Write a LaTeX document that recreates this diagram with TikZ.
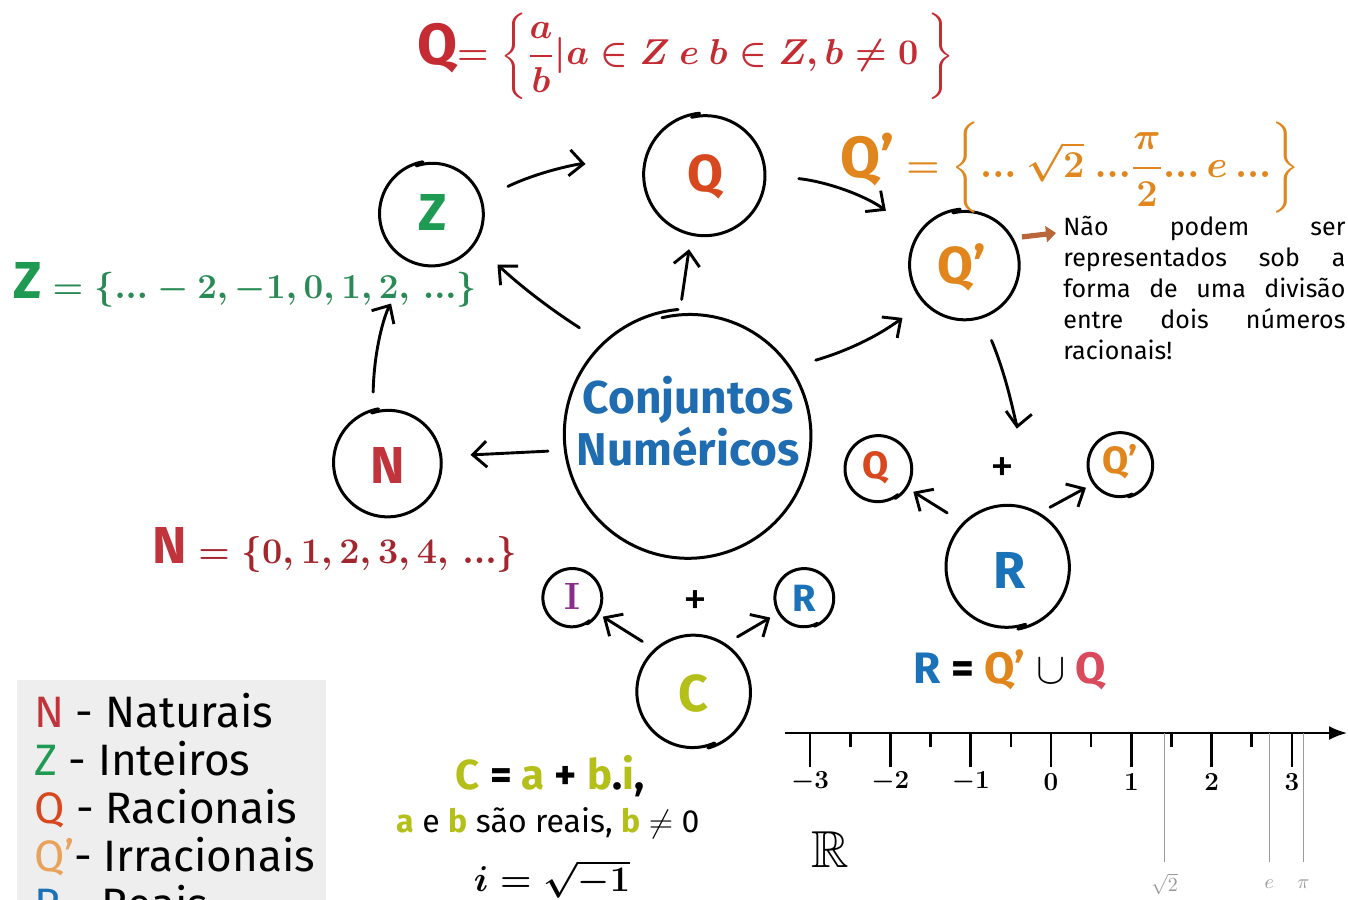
\RequirePackage{fix-cm}
\documentclass[tikz,border=0pt]{standalone}
\usepackage{amsmath,amssymb,bm}
\usepackage[no-math]{fontspec}
\setmainfont{Fira Sans}
\usetikzlibrary{arrows.meta}
\definecolor{qred}{HTML}{C42B32}
\definecolor{qor}{HTML}{D8481E}
\definecolor{zgreen}{HTML}{1E9A52}
\definecolor{zform}{HTML}{2A8A55}
\definecolor{qporange}{HTML}{E0861C}
\definecolor{qplight}{HTML}{E8A25A}
\definecolor{nred}{HTML}{C1343C}
\definecolor{nform}{HTML}{A3262E}
\definecolor{cblue}{HTML}{1F6CB0}
\definecolor{ccol}{HTML}{B4BF1A}
\definecolor{ipurple}{HTML}{8A2C8C}
\definecolor{rblue}{HTML}{1A72B8}
\definecolor{qpink}{HTML}{D84A5C}
\definecolor{brownarr}{HTML}{B8663A}
\definecolor{legendgray}{HTML}{EEEEEE}
\definecolor{linegray}{HTML}{9A9A9A}
\newcommand\mysetnode[6]{%
  \node[setc, minimum size=#4pt] (#1) at (#2,#3) {#6};
  \pgfmathsetmacro\myendang{#5+368}%
  \draw[outl, shift={(#2,#3)}] plot[domain=#5:\myendang, samples=100, smooth]
    ({#4*(1-0.00012*(\x-#5))*cos(\x)}, {-#4*(1-0.00012*(\x-#5))*sin(\x)});
}
\begin{document}
\begin{tikzpicture}[x=0.5pt,y=-0.5pt,
  setc/.style={circle,inner sep=0pt,outer sep=0pt},
  outl/.style={line width=1.5pt,line cap=round},
  arr/.style={line width=1.45pt,line cap=round,-{Straight Barb[length=7pt,width=13pt]}},
  letter/.style={font=\fontsize{26}{30}\selectfont\bfseries},
  sletter/.style={font=\fontsize{19}{22}\selectfont\bfseries},
  legtext/.style={anchor=base west,font=\fontsize{22}{26}\selectfont},
  tick/.style={line width=1.3pt},
  graytick/.style={line width=0.6pt,draw=linegray},
]
\useasboundingbox[fill=white] (0,0) rectangle (1348,899);

% legend box
\fill[legendgray] (17,680) rectangle (326,910);
\node[legtext] (l1) at (27,727) {\textcolor{nred}{N} - Naturais};
\node[legtext] (l2) at (27,775) {\textcolor{zgreen}{Z} - Inteiros};
\node[legtext] (l3) at (27,823) {\textcolor{qor}{Q} - Racionais};
\node[legtext] (l4) at (27,871) {\textcolor{qplight}{Q'}- Irracionais};
\node[legtext] (l5) at (27,919) {\textcolor{rblue}{R} - Reais};

% circles
\mysetnode{Z}{432}{214}{53}{100}{}
\mysetnode{Q}{705}{175}{62}{95}{}
\mysetnode{Qp}{965}{265}{56}{95}{}
\mysetnode{cn}{689}{435}{126}{95}{}
\mysetnode{N}{388}{463}{55}{100}{}
\mysetnode{sQ}{878}{469}{34}{-60}{}
\mysetnode{sQp}{1120}{465}{33}{-75}{}
\mysetnode{R}{1007}{567}{63}{-80}{}
\mysetnode{C}{693}{692}{58}{-75}{}
\mysetnode{I}{572}{598}{30}{-60}{}
\mysetnode{sR}{804}{598}{30}{-70}{}

% letters
\node[letter,text=zgreen] (Zl) at (433,212) {Z};
\node[letter,text=qor] (Ql) at (705,177) {Q};
\node[letter,text=qporange] (Qpl) at (962,267) {Q'};
\node[letter,text=nred] (Nl) at (388,465) {N};
\node[sletter,text=qor] (sQl) at (876,468) {Q};
\node[sletter,text=qporange] (sQpl) at (1120,462) {Q'};
\node[letter,text=rblue] (Rl) at (1010,570) {R};
\node[letter,text=ccol] (Cl) at (693,693) {C};
\node[sletter,text=ipurple,font=\fontsize{19}{22}\selectfont\mathversion{bold}] (Il) at (572,596) {$\mathrm{I}$};
\node[sletter,text=rblue] (sRl) at (804,598) {R};
\node[text=cblue,align=center,font=\fontsize{23}{26}\selectfont\bfseries] (cnt) at (688,421) {Conjuntos\\Numéricos};
\node[font=\fontsize{24}{26}\selectfont] (plusR) at (1002,470) {+};
\node[font=\fontsize{24}{26}\selectfont] (plusC) at (695,603) {+};

% formulas
\node[text=qred,font=\fontsize{18}{22}\selectfont\mathversion{bold}] (qdef) at (686,56)
  {{\fontsize{29}{30}\selectfont\bfseries Q}$=\left\{\dfrac{a}{b}|a\in Z\ e\ b\in Z, b\neq 0\ \right\}$};
\node[text=qporange,font=\fontsize{19}{22}\selectfont\mathversion{bold}] (qpdef) at (1070,168)
  {{\fontsize{29}{30}\selectfont\bfseries Q'}$\;=\left\{...\ \sqrt{2}\ ...\dfrac{\pi}{2}...\,e\,...\right\}$};
\node[text=zform,font=\fontsize{17.5}{22}\selectfont\mathversion{bold}] (zdef) at (245,285)
  {\textcolor{zgreen}{\fontsize{26}{30}\selectfont\bfseries Z}$\;=\{...-2,-1,0,1,2,\,...\}$};
\node[text=nform,font=\fontsize{18}{22}\selectfont\mathversion{bold}] (ndef) at (335,550)
  {\textcolor{nred}{\fontsize{26}{30}\selectfont\bfseries N}$\;=\{0,1,2,3,4,\,...\}$};
\node[font=\fontsize{22}{26}\selectfont\bfseries] (rdef) at (1010,670)
  {\textcolor{rblue}{R} = \textcolor{qporange}{Q'} $\cup$ \textcolor{qpink}{Q}};
\node[font=\fontsize{21}{24}\selectfont\bfseries] (cdef) at (550,776)
  {\textcolor{ccol}{C} = \textcolor{ccol}{a} + \textcolor{ccol}{b}.\textcolor{ccol}{i},};
\node[font=\fontsize{16}{20}\selectfont] (cdef2) at (548,823)
  {\textcolor{ccol}{\bfseries a} e \textcolor{ccol}{\bfseries b} são reais, \textcolor{ccol}{\bfseries b} $\neq$ 0};
\node[font=\fontsize{18}{22}\selectfont\mathversion{bold}] (idef) at (552,879) {$i=\sqrt{-1}$};

% Q' description
\node[anchor=north west,align=left,inner sep=0pt,font=\fontsize{12.5}{15.5}\selectfont] (qptext) at (1063,216)
  {\makebox[141pt][s]{Não podem ser}\\
   \makebox[141pt][s]{representados sob a}\\
   \makebox[141pt][s]{forma de uma divisão}\\
   \makebox[141pt][s]{entre dois números}\\
   racionais!};
\coordinate (brownend) at (1056,233);
\draw[line width=2.6pt,draw=brownarr,shorten <=4pt,-{Triangle[length=5pt,width=8pt]}] (Qp.29) -- (brownend);

% connectors
\draw[arr,shorten <=14pt,shorten >=15pt] (cn.133) to[bend left=5] (Z.-35);
\draw[arr,shorten <=5pt,shorten >=7pt] (cn.94) to (Q.-103);
\draw[arr,shorten <=8pt,shorten >=14pt] (cn.187) to (N.7);
\draw[arr,shorten <=9pt,shorten >=23pt] (N.106) to[bend left=15] (Z.-109);
\draw[arr,shorten <=14pt,shorten >=29pt] (Z.17) to[bend left=15] (Q.174);
\draw[arr,shorten <=16pt,shorten >=20pt] (Q.0) to[bend left=15] (Qp.147);
\draw[arr,shorten <=11pt,shorten >=13pt] (cn.33) to[bend right=10] (Qp.222);
\draw[arr,shorten <=12pt,shorten >=38pt] (Qp.-72) to[bend left=15] (R.90);
\draw[arr,shorten <=9pt,shorten >=4pt] (R.135) -- (sQ.-33);
\draw[arr,shorten <=6pt,shorten >=4pt] (R.59) -- (sQp.215);
\draw[arr,shorten <=7pt,shorten >=3pt] (C.132) -- (I.-31);
\draw[arr,shorten <=7pt,shorten >=4.5pt] (C.56) -- (sR.210);

% number line
\coordinate (axs) at (785,733);
\coordinate (axe) at (1347,733);
\draw[line width=1pt,-{Latex[length=9pt,width=7pt]}] (axs) -- (axe);
\foreach \v [count=\i] in {-3,-2,-1,0,1,2,3} {
  \draw[tick] ({1051+80.3*\v},733) -- ++(0,34);
  \node[font=\fontsize{13}{15}\selectfont\mathversion{bold}] (tl\i) at ({1051+80.3*\v},782) {$\v$};
}
\foreach \v in {-2.5,-1.5,-0.5,0.5,1.5,2.5} {
  \draw[tick] ({1051+80.3*\v},733) -- ++(0,14);
}
\draw[graytick] (1164.6,733) -- (1164.6,862);
\draw[graytick] (1269.3,733) -- (1269.3,862);
\draw[graytick] (1303.3,733) -- (1303.3,862);
\node[text=linegray,font=\fontsize{10}{12}\selectfont] (s2) at (1164.6,884) {$\sqrt{2}$};
\node[text=linegray,font=\fontsize{10}{12}\selectfont] (el) at (1269.3,884) {$e$};
\node[text=linegray,font=\fontsize{10}{12}\selectfont] (pil) at (1303.3,884) {$\pi$};
\node[font=\fontsize{26}{30}\selectfont] (RR) at (830,850) {$\mathbb{R}$};
\end{tikzpicture}
\end{document}
